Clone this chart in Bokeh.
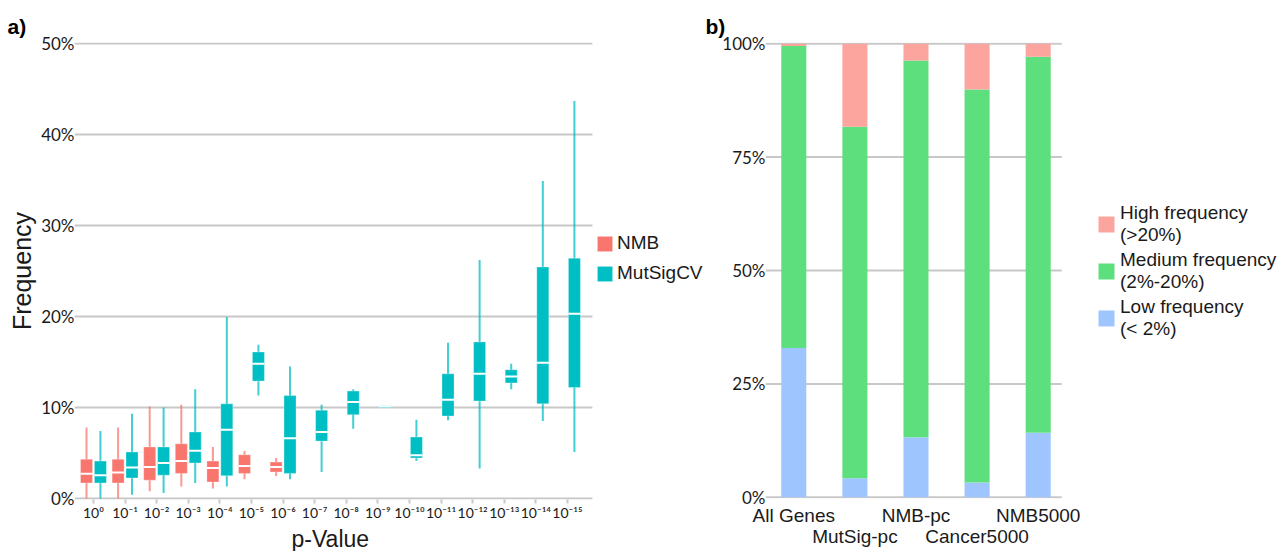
from bokeh.plotting import figure
from bokeh.layouts import row
from bokeh.models import Range1d, FixedTicker, Legend, LegendItem, ColumnDataSource, Title
from bokeh.embed import file_html
from bokeh.resources import INLINE

# ---------------- data: panel a ----------------
p_labels = ["10⁰", "10⁻¹", "10⁻²", "10⁻³", "10⁻⁴", "10⁻⁵", "10⁻⁶", "10⁻⁷",
            "10⁻⁸", "10⁻⁹", "10⁻¹⁰", "10⁻¹¹", "10⁻¹²", "10⁻¹³", "10⁻¹⁴", "10⁻¹⁵"]

nmb_cat = [0, 1, 2, 3, 4, 5, 6]
nmb_low = [0.0, 0.0, 0.8, 1.3, 1.1, 2.1, 2.45]
nmb_q1 = [1.7, 1.7, 2.0, 2.75, 1.8, 2.75, 2.9]
nmb_med = [2.7, 2.85, 3.45, 4.1, 3.35, 3.55, 3.45]
nmb_q3 = [4.3, 4.3, 5.65, 6.0, 4.1, 4.8, 4.0]
nmb_high = [7.8, 7.8, 10.1, 10.3, 5.65, 5.2, 4.45]

mut_cat = list(range(16))
mut_low = [0.0, 0.4, 0.6, 1.7, 1.3, 11.3, 2.1, 2.9, 7.65, 9.95, 4.1, 8.6, 3.3, 12.0, 8.5, 5.1]
mut_q1 = [1.7, 2.25, 2.55, 3.9, 2.5, 12.9, 2.75, 6.3, 9.2, 9.95, 4.45, 9.05, 10.7, 12.7, 10.4, 12.2]
mut_med = [2.55, 3.4, 3.9, 5.25, 7.55, 14.8, 6.6, 7.3, 10.6, 10.1, 4.75, 10.85, 13.7, 13.4, 14.9, 20.3]
mut_q3 = [4.1, 5.1, 5.65, 7.3, 10.4, 16.1, 11.3, 9.7, 11.8, 10.2, 6.75, 13.7, 17.2, 14.15, 25.45, 26.4]
mut_high = [7.4, 9.3, 10.0, 12.0, 19.95, 16.9, 14.5, 10.3, 12.0, 10.2, 8.65, 17.1, 26.2, 14.8, 34.9, 43.7]

freq_ticks = [0, 10, 20, 30, 40, 50]

# ---------------- data: panel b ----------------
groups = ["All Genes", "MutSig-pc", "NMB-pc", "Cancer5000", "NMB5000"]
low_freq = [32.9, 4.2, 13.25, 3.3, 14.25]
medium_freq = [66.6, 77.5, 83.05, 86.6, 82.85]
high_freq = [0.5, 18.3, 3.7, 10.1, 2.9]
share_ticks = [0, 25, 50, 75, 100]

NMB_C = "#F8766D"
MUT_C = "#00BFC4"
HIGH_C = "#FCA59F"
MED_C = "#5EDF7E"
LOW_C = "#9FC5FE"
GRID = "#c8c8c8"
TXT = "#1a1a1a"
SANS = "Liberation Sans"
GILL = "Lato"


def base_style(p):
    p.outline_line_color = None
    p.xgrid.grid_line_color = None
    p.ygrid.grid_line_color = None
    p.yaxis.axis_line_color = None
    p.yaxis.major_tick_line_color = None
    p.yaxis.major_tick_out = 0
    p.yaxis.major_tick_in = 0
    p.yaxis.minor_tick_line_color = None
    p.yaxis.major_label_standoff = 0
    p.yaxis.major_label_text_font = GILL
    p.yaxis.major_label_text_font_size = "17px"
    p.yaxis.major_label_text_color = TXT
    p.title.text_font = SANS
    p.title.text_font_size = "21px"
    p.title.text_font_style = "bold"
    p.title.text_color = "black"
    p.title.align = "left"
    p.title.standoff = 10


# ---------------- panel a ----------------
A_LEFT, A_RIGHT = -0.6, 15.79        # extent of the plotting band (grid lines)
A_PX = 31.6                          # pixels per category
A_FRAME_W = 630
off = 0.22
bw = 0.38
nmb_x = [c - off for c in nmb_cat]
mut_x = [c + off for c in mut_cat]

src_n = ColumnDataSource(dict(x=nmb_x, low=nmb_low, q1=nmb_q1, med=nmb_med, q3=nmb_q3, high=nmb_high,
                              xl=[x - bw / 2 for x in nmb_x], xr=[x + bw / 2 for x in nmb_x]))
src_m = ColumnDataSource(dict(x=mut_x, low=mut_low, q1=mut_q1, med=mut_med, q3=mut_q3, high=mut_high,
                              xl=[x - bw / 2 for x in mut_x], xr=[x + bw / 2 for x in mut_x]))

p1 = figure(frame_width=A_FRAME_W, frame_height=457, x_range=Range1d(A_LEFT, A_LEFT + A_FRAME_W / A_PX),
            y_range=Range1d(-0.12, 50.12),
            output_backend="svg", toolbar_location=None, title="a)",
            min_border_left=74, min_border_right=0, min_border_top=42, min_border_bottom=0)
base_style(p1)
p1.title.offset = -67

grid_a = ColumnDataSource(dict(y=freq_ticks, x0=[A_LEFT] * len(freq_ticks), x1=[A_RIGHT] * len(freq_ticks)))
p1.segment(x0="x0", x1="x1", y0="y", y1="y", source=grid_a, line_color=GRID, line_width=2)

p1.segment(x0="x", x1="x", y0="low", y1="high", source=src_n, line_color=NMB_C, line_alpha=0.75, line_width=2)
p1.segment(x0="x", x1="x", y0="low", y1="high", source=src_m, line_color=MUT_C, line_alpha=0.75, line_width=2)
rn = p1.vbar(x="x", width=bw, bottom="q1", top="q3", source=src_n, fill_color=NMB_C, line_color="white", line_width=0.6, line_alpha=0.5)
rm = p1.vbar(x="x", width=bw, bottom="q1", top="q3", source=src_m, fill_color=MUT_C, line_color="white", line_width=0.6, line_alpha=0.5)
p1.segment(x0="xl", x1="xr", y0="med", y1="med", source=src_n, line_color="white", line_width=2)
p1.segment(x0="xl", x1="xr", y0="med", y1="med", source=src_m, line_color="white", line_width=2)

p1.yaxis.ticker = FixedTicker(ticks=freq_ticks)
p1.yaxis.major_label_overrides = {t: f"{t}%" for t in freq_ticks}
p1.yaxis.axis_label = "Frequency"
p1.yaxis.axis_label_text_font = SANS
p1.yaxis.axis_label_text_font_size = "25px"
p1.yaxis.axis_label_text_font_style = "normal"
p1.yaxis.axis_label_text_color = TXT
p1.yaxis.axis_label_standoff = 2

p1.xaxis.ticker = FixedTicker(ticks=list(range(16)))
p1.xaxis.bounds = (A_LEFT, A_RIGHT)
p1.xaxis.major_label_overrides = {i: lab for i, lab in enumerate(p_labels)}
p1.xaxis.axis_line_color = None
p1.xaxis.major_tick_line_color = GRID
p1.xaxis.major_tick_line_width = 2
p1.xaxis.major_tick_out = 4
p1.xaxis.major_tick_in = 0
p1.xaxis.minor_tick_line_color = None
p1.xaxis.major_label_standoff = 0
p1.xaxis.major_label_text_font = GILL
p1.xaxis.major_label_text_font_size = "14px"
p1.xaxis.major_label_text_color = TXT

xlab = Title(text="p-Value", align="left", offset=217, standoff=0,
             text_font=SANS, text_font_size="23px", text_font_style="normal", text_color=TXT)
p1.add_layout(xlab, "below")

leg1 = Legend(items=[LegendItem(label="NMB", renderers=[rn]), LegendItem(label="MutSigCV", renderers=[rm])],
              location=(521, 215), orientation="vertical", margin=0, padding=0, spacing=8,
              glyph_width=19, glyph_height=19, label_height=19, label_standoff=3,
              label_text_font=SANS, label_text_font_size="19px", label_text_color=TXT,
              border_line_color=None, background_fill_alpha=0)
p1.add_layout(leg1)

# ---------------- panel b ----------------
B_LEFT, B_RIGHT = -0.463, 4.386
B_PX = 61.1
B_FRAME_W = 513
src_b = ColumnDataSource(dict(x=list(range(len(groups))), low=low_freq, medium=medium_freq, high=high_freq))

p2 = figure(frame_width=B_FRAME_W, frame_height=456, x_range=Range1d(B_LEFT, B_LEFT + B_FRAME_W / B_PX),
            y_range=Range1d(-0.25, 100.25),
            output_backend="svg", toolbar_location=None, title="b)",
            min_border_left=61, min_border_right=0, min_border_top=42, min_border_bottom=0)
base_style(p2)
p2.title.offset = -60

grid_b = ColumnDataSource(dict(y=share_ticks, x0=[B_LEFT] * len(share_ticks), x1=[B_RIGHT] * len(share_ticks)))
p2.segment(x0="x0", x1="x1", y0="y", y1="y", source=grid_b, line_color=GRID, line_width=2)

rs = p2.vbar_stack(["low", "medium", "high"], x="x", width=0.41, source=src_b,
                   fill_color=[LOW_C, MED_C, HIGH_C], line_color=None)

p2.yaxis.ticker = FixedTicker(ticks=share_ticks)
p2.yaxis.major_label_overrides = {t: f"{t}%" for t in share_ticks}

p2.xaxis.ticker = FixedTicker(ticks=list(range(len(groups))))
p2.xaxis.major_label_overrides = {i: (g if i % 2 == 0 else "\n" + g) for i, g in enumerate(groups)}
p2.xaxis.axis_line_color = None
p2.xaxis.major_tick_line_color = None
p2.xaxis.minor_tick_line_color = None
p2.xaxis.major_label_standoff = 0
p2.xaxis.major_label_text_font = SANS
p2.xaxis.major_label_text_font_size = "19px"
p2.xaxis.major_label_text_line_height = 1.0
p2.xaxis.major_label_text_color = TXT

leg2 = Legend(items=[LegendItem(label="High frequency\n(>20%)", renderers=[rs[2]]),
                     LegendItem(label="Medium frequency\n(2%-20%)", renderers=[rs[1]]),
                     LegendItem(label="Low frequency\n(< 2%)", renderers=[rs[0]])],
              location=(331, 158), orientation="vertical", margin=0, padding=0, spacing=3,
              glyph_width=20, glyph_height=20, label_height=44, label_standoff=4,
              label_text_font=SANS, label_text_font_size="19px", label_text_color=TXT,
              label_text_line_height=1.0,
              border_line_color=None, background_fill_alpha=0)
p2.add_layout(leg2)

layout = row(p1, p2, spacing=0)
open("out.html", "w").write(file_html(layout, INLINE))
